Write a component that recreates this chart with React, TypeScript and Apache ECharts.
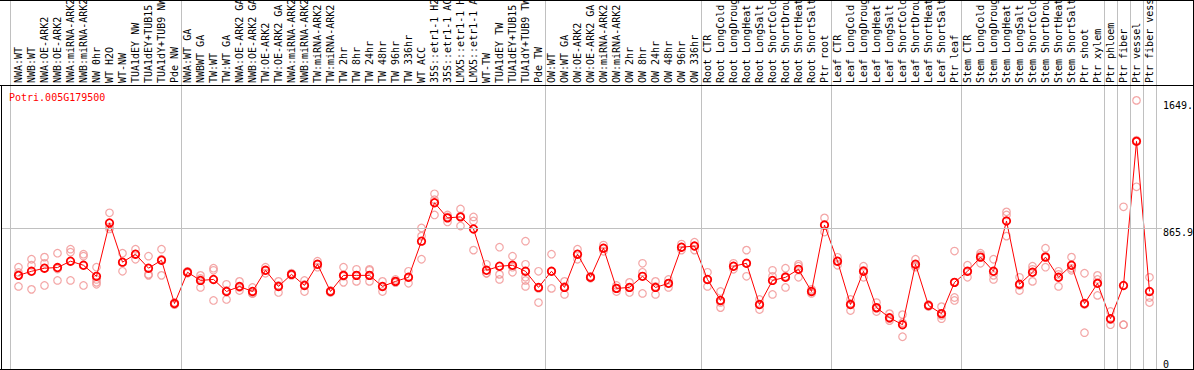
import React, { useEffect, useRef } from "react";
import * as echarts from "echarts";

const geneId = "Potri.005G179500";

const categories = [
  "NWA:WT", "NWB:WT", "NWA:OE-ARK2", "NWB:OE-ARK2", "NWA:miRNA-ARK2", "NWB:miRNA-ARK2", "NW 0hr", "WT H2O", "WT-NW",
  "TUA1dEY NW", "TUA1dEY+TUB15", "TUA1dY+TUB9 NW", "Pde NW",
  "NWA:WT GA", "NWBWT GA", "TW:WT", "TW:WT GA", "NWA:OE-ARK2 GA", "NWB:OE-ARK2 GA", "TW:OE-ARK2", "TW:OE-ARK2 GA",
  "NWA:miRNA-ARK2", "NWB:miRNA-ARK2", "TW:miRNA-ARK2", "TW:miRNA-ARK2", "TW 2hr", "TW 8hr", "TW 24hr", "TW 48hr",
  "TW 96hr", "TW 336hr", "WT ACC", "35S::etr1-1 H2", "35S::etr1-1 AC", "LMX5::etr1-1 H", "LMX5::etr1-1 A", "WT-TW",
  "TUA1dEY TW", "TUA1dEY+TUB15", "TUA1dY+TUB9 TW", "Pde TW",
  "OW:WT", "OW:WT GA", "OW:OE-ARK2", "OW:OE-ARK2 GA", "OW:miRNA-ARK2", "OW:miRNA-ARK2", "OW 2hr", "OW 8hr", "OW 24hr",
  "OW 48hr", "OW 96hr", "OW 336hr",
  "Root CTR", "Root LongCold", "Root LongDroug", "Root LongHeat", "Root LongSalt", "Root ShortCold", "Root ShortDrou",
  "Root ShortHeat", "Root ShortSalt", "Ptr root",
  "Leaf CTR", "Leaf LongCold", "Leaf LongDroug", "Leaf LongHeat", "Leaf LongSalt", "Leaf ShortCold", "Leaf ShortDrou",
  "Leaf ShortHeat", "Leaf ShortSalt", "Ptr leaf",
  "Stem CTR", "Stem LongCold", "Stem LongDroug", "Stem LongHeat", "Stem LongSalt", "Stem ShortCold", "Stem ShortDrou",
  "Stem ShortHeat", "Stem ShortSalt",
  "Ptr shoot", "Ptr xylem", "Ptr phloem", "Ptr fiber", "Ptr vessel", "Ptr fiber vess",
];

const means = [
  575, 600, 619, 623, 662, 637, 569, 897, 656, 705, 619, 668, 402,
  594, 544, 550, 476, 507, 476, 606, 507, 581, 513, 643, 476, 575, 575, 575, 507, 538, 563, 785, 1021, 928, 934, 860,
  606, 631, 637, 600, 501,
  600, 501, 705, 563, 742, 495, 501, 569, 501, 526, 748, 755,
  550, 421, 631, 649, 396, 544, 563, 612, 476, 884,
  662, 396, 600, 377, 315, 272, 643, 390, 340, 532,
  600, 687, 600, 909, 520, 594, 687, 563, 637,
  402, 526, 309, 513, 1398, 476,
];

const replicates = [
  [625, 507, 593], [674, 637, 489], [687, 649, 513], [711, 544, 614], [736, 717, 544], [705, 693, 513],
  [625, 550, 520, 532], [959, 860, 872], [711, 600, 656], [736, 674, 705], [693, 581, 575], [736, 674, 575],
  [395, 402, 409],
  [588, 600, 594], [575, 501, 556], [619, 606, 421], [520, 427, 482], [538, 482, 501], [501, 464, 464],
  [625, 606, 588], [538, 470, 513], [588, 575, 581], [544, 476, 519], [662, 643, 625], [476, 470, 482],
  [625, 532, 569], [612, 538, 575], [612, 606, 538], [538, 476, 507], [550, 532, 532], [600, 526, 563],
  [866, 816, 674], [1076, 946, 1040], [946, 903, 934], [983, 878, 940], [934, 909, 730], [643, 588, 588],
  [748, 581, 550], [693, 594, 625], [785, 643, 563, 544, 507], [600, 408, 495],
  [705, 495, 600], [538, 458, 507], [736, 705, 674], [563, 557, 569], [761, 742, 723], [513, 476, 495],
  [532, 501, 470], [649, 594, 464], [538, 458, 507], [550, 501, 526], [767, 730, 748], [779, 730, 755],
  [594, 507, 550], [476, 377, 409], [649, 612, 631], [730, 569, 649], [427, 365, 396], [606, 458, 569],
  [619, 501, 569], [643, 563, 631], [489, 464, 476], [928, 841, 884],
  [637, 662, 686], [427, 359, 402], [631, 563, 606], [408, 353, 371], [340, 297, 309], [334, 198, 284],
  [674, 625, 631], [396, 390, 384], [383, 309, 328], [724, 439, 421],
  [637, 563, 600], [711, 649, 699], [674, 550, 575], [965, 946, 816], [563, 482, 513], [631, 538, 612],
  [742, 625, 693], [600, 507, 581], [687, 606, 618],
  [588, 223, 396], [575, 452, 550], [353, 272, 303], [996, 272, 272], [1649.5, 1119, 1405], [563, 439, 408],
];

// boundaries between sample groups (in category-index units)
const groupBoundaries = [12.5, 40.5, 52.5, 62.5, 72.5, 83.5, 84.5, 85.5, 86.5, 87.5];
const midTick = 865.9;
const maxTick = 1649.5;
const maxTickLabel = "1649.";
const yMax = 2266;

export default function App() {
  const ref = useRef<HTMLDivElement>(null);

  useEffect(() => {
    document.body.style.margin = "0";
    const chart = echarts.init(ref.current as HTMLDivElement, null, { renderer: "svg" });
    const FONT = "'DejaVu Sans Mono', 'Liberation Mono', monospace";

    const repData: number[][] = [];
    replicates.forEach((reps, i) => reps.forEach((v) => repData.push([i, v])));

    const black = { stroke: "#000", lineWidth: 1 };
    const grey = { stroke: "#c0c0c0", lineWidth: 1 };
    chart.setOption({
      animation: false,
      backgroundColor: "#ffffff",
      title: {
        text: geneId,
        left: 9,
        top: 92,
        padding: 0,
        textStyle: { fontFamily: FONT, fontSize: 10, fontWeight: "normal", color: "#ff0000" },
      },
      grid: { left: 12, right: 38, top: 0, bottom: 1, containLabel: false, outerBoundsMode: "none" },
      xAxis: [
        {
          type: "category",
          data: categories,
          position: "top",
          offset: -85,
          boundaryGap: true,
          axisLine: { show: false },
          axisTick: { show: false },
          splitLine: { show: false },
          axisLabel: {
            rotate: 90,
            interval: 0,
            margin: 2,
            fontFamily: FONT,
            fontSize: 10,
            color: "#000",
          },
        },
        { type: "value", min: -0.5, max: 87.5, show: false },
      ],
      yAxis: [
        {
          type: "value",
          min: 0,
          max: yMax,
          position: "right",
          axisLine: { show: false },
          axisTick: { show: false },
          splitLine: { show: false },
          axisLabel: {
            customValues: [midTick, maxTick],
            verticalAlign: "top",
            margin: 7,
            fontFamily: FONT,
            fontSize: 10,
            color: "#000",
            formatter: (v: number) => (v === maxTick ? maxTickLabel : v.toFixed(1)),
          },
        },
        {
          type: "value",
          min: 0,
          max: yMax,
          position: "right",
          axisLine: { show: false },
          axisTick: { show: false },
          splitLine: { show: false },
          axisLabel: {
            customValues: [0],
            verticalAlign: "bottom",
            margin: 7,
            fontFamily: FONT,
            fontSize: 10,
            color: "#000",
            formatter: (v: number) => String(v),
          },
        },
      ],
      graphic: [
        { type: "line", shape: { x1: 0, y1: 0.5, x2: 1194, y2: 0.5 }, style: black, z: 10 },
        { type: "line", shape: { x1: 0, y1: 85.5, x2: 1194, y2: 85.5 }, style: black, z: 10 },
        { type: "line", shape: { x1: 0, y1: 369.5, x2: 1194, y2: 369.5 }, style: black, z: 10 },
        { type: "line", shape: { x1: 1.5, y1: 85, x2: 1.5, y2: 370 }, style: black, z: 10 },
        { type: "line", shape: { x1: 1193.5, y1: 0, x2: 1193.5, y2: 370 }, style: black, z: 10 },
        { type: "line", shape: { x1: 10.5, y1: 0, x2: 10.5, y2: 370 }, style: grey, z: 1 },
        { type: "line", shape: { x1: 1, y1: 228.5, x2: 12, y2: 228.5 }, style: grey, z: 1 },
        { type: "line", shape: { x1: 1156, y1: 228.5, x2: 1162, y2: 228.5 }, style: grey, z: 1 },
      ],
      series: [
        {
          type: "line",
          xAxisIndex: 1,
          yAxisIndex: 0,
          data: [],
          silent: true,
          symbol: "none",
          z: 1,
          markLine: {
            silent: true,
            symbol: "none",
            label: { show: false },
            lineStyle: { color: "#c0c0c0", type: "solid", width: 1 },
            data: [
              ...groupBoundaries.map((b) => ({ xAxis: b })),
              { yAxis: midTick },
            ],
          },
        },
        {
          type: "scatter",
          xAxisIndex: 0,
          yAxisIndex: 0,
          data: repData,
          symbol: "circle",
          symbolSize: 7.5,
          z: 3,
          itemStyle: { color: "rgba(0,0,0,0)", borderColor: "#f09090", borderWidth: 1.2 },
        },
        {
          type: "line",
          xAxisIndex: 0,
          yAxisIndex: 0,
          data: means,
          symbol: "circle",
          symbolSize: 7.5,
          z: 4,
          lineStyle: { color: "#ff0000", width: 1 },
          itemStyle: { color: "rgba(0,0,0,0)", borderColor: "#ff0000", borderWidth: 1.8 },
        },
      ],
    });

    return () => chart.dispose();
  }, []);

  return <div ref={ref} style={{ width: 1194, height: 370 }} />;
}
